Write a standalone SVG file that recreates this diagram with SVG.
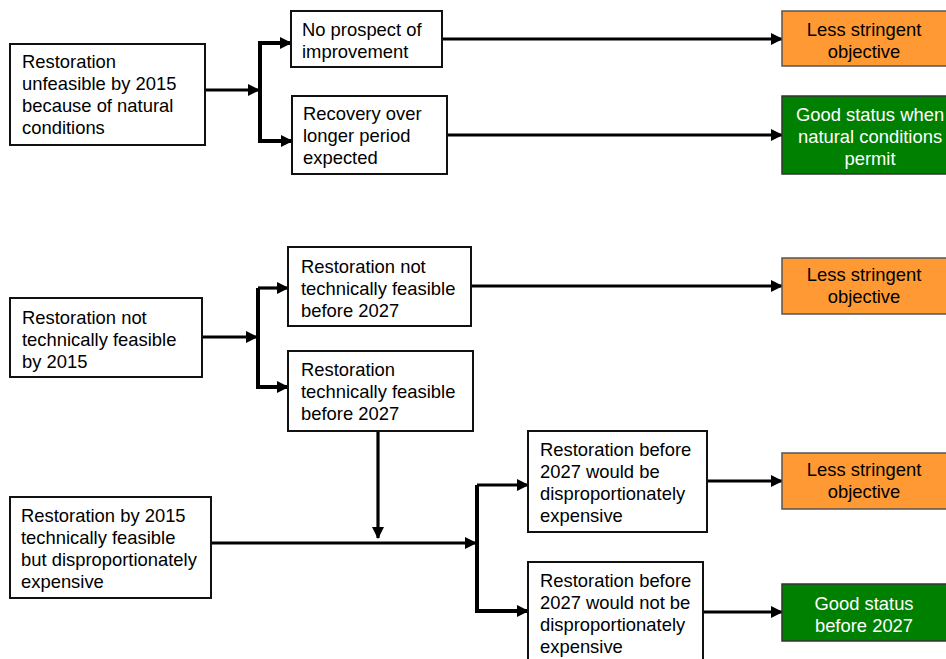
<svg xmlns="http://www.w3.org/2000/svg" width="946" height="659" viewBox="0 0 946 659">
<defs>
<style>
.box{fill:#fff;stroke:#111;stroke-width:2}
.or{fill:#FF9933;stroke:#555;stroke-width:1.5}
.gr{fill:#008000;stroke:#333;stroke-width:1.5}
text{font-family:"Liberation Sans",Arial,sans-serif;font-size:18.4px;fill:#000}
.w{fill:#fff}
.c{text-anchor:middle}
.ln{fill:none;stroke:#000;stroke-width:3.2}
.br{fill:none;stroke:#000;stroke-width:4;stroke-linejoin:miter}
</style>
<marker id="ah" markerUnits="userSpaceOnUse" markerWidth="12" markerHeight="14" refX="11" refY="6" orient="auto" viewBox="0 0 12 12">
<path d="M0,0 L12,6 L0,12 Z" fill="#000"/>
</marker>
</defs>
<rect width="946" height="659" fill="#fff"/>
<g id="connectors">
<line class="ln" x1="205" y1="90" x2="259" y2="90" marker-end="url(#ah)"/>
<path class="br" d="M291,43 H260 V141 H292" marker-end="url(#ah)"/>
<line class="ln" x1="260" y1="43" x2="291" y2="43" marker-end="url(#ah)"/>
<line class="ln" x1="442" y1="39" x2="782" y2="39" marker-end="url(#ah)"/>
<line class="ln" x1="447" y1="135" x2="782" y2="135" marker-end="url(#ah)"/>
<line class="ln" x1="202" y1="337" x2="257" y2="337" marker-end="url(#ah)"/>
<path class="br" d="M258,288 V387 H288" marker-end="url(#ah)"/>
<line class="ln" x1="258" y1="288" x2="288" y2="288" marker-end="url(#ah)"/>
<line class="ln" x1="471" y1="286" x2="782" y2="286" marker-end="url(#ah)"/>
<line class="ln" x1="378" y1="431" x2="378" y2="538" marker-end="url(#ah)"/>
<line class="ln" x1="211" y1="543" x2="476" y2="543" marker-end="url(#ah)"/>
<path class="br" d="M477,485 V611 H528" marker-end="url(#ah)"/>
<line class="ln" x1="477" y1="485" x2="528" y2="485" marker-end="url(#ah)"/>
<line class="ln" x1="707" y1="481" x2="782" y2="481" marker-end="url(#ah)"/>
<line class="ln" x1="703" y1="612" x2="782" y2="612" marker-end="url(#ah)"/>
</g>
<g id="n1">
<rect class="box" x="10" y="44" width="195" height="101"/>
<text x="22" y="68">Restoration</text>
<text x="22" y="90">unfeasible by 2015</text>
<text x="22" y="112">because of natural</text>
<text x="22" y="134">conditions</text>
</g>
<g id="n2">
<rect class="box" x="291" y="11" width="151" height="56"/>
<text x="302" y="36">No prospect of</text>
<text x="302" y="58">improvement</text>
</g>
<g id="n3">
<rect class="box" x="292" y="96" width="155" height="78"/>
<text x="303" y="120">Recovery over</text>
<text x="303" y="142">longer period</text>
<text x="303" y="164">expected</text>
</g>
<g id="n4">
<rect class="or" x="782" y="11" width="170" height="55"/>
<text class="c" x="864" y="36">Less stringent</text>
<text class="c" x="864" y="58">objective</text>
</g>
<g id="n5">
<rect class="gr" x="782" y="96" width="180" height="78"/>
<text class="c w" x="870" y="121">Good status when</text>
<text class="c w" x="870" y="143">natural conditions</text>
<text class="c w" x="870" y="165">permit</text>
</g>
<g id="n6">
<rect class="box" x="10" y="298" width="192" height="79"/>
<text x="22" y="324">Restoration not</text>
<text x="22" y="346">technically feasible</text>
<text x="22" y="368">by 2015</text>
</g>
<g id="n7">
<rect class="box" x="288" y="247" width="183" height="79"/>
<text x="301" y="273">Restoration not</text>
<text x="301" y="295">technically feasible</text>
<text x="301" y="317">before 2027</text>
</g>
<g id="n8">
<rect class="box" x="288" y="351" width="185" height="80"/>
<text x="301" y="376">Restoration</text>
<text x="301" y="398">technically feasible</text>
<text x="301" y="420">before 2027</text>
</g>
<g id="n9">
<rect class="or" x="782" y="258" width="170" height="56"/>
<text class="c" x="864" y="281">Less stringent</text>
<text class="c" x="864" y="303">objective</text>
</g>
<g id="n10">
<rect class="box" x="10" y="497" width="201" height="101"/>
<text x="21" y="522">Restoration by 2015</text>
<text x="21" y="544">technically feasible</text>
<text x="21" y="566">but disproportionately</text>
<text x="21" y="588">expensive</text>
</g>
<g id="n11">
<rect class="box" x="528" y="431" width="179" height="101"/>
<text x="540" y="456">Restoration before</text>
<text x="540" y="478">2027 would be</text>
<text x="540" y="500">disproportionately</text>
<text x="540" y="522">expensive</text>
</g>
<g id="n12">
<rect class="box" x="528" y="562" width="175" height="110"/>
<text x="540" y="587">Restoration before</text>
<text x="540" y="609">2027 would not be</text>
<text x="540" y="631">disproportionately</text>
<text x="540" y="653">expensive</text>
</g>
<g id="n13">
<rect class="or" x="782" y="453" width="170" height="56"/>
<text class="c" x="864" y="476">Less stringent</text>
<text class="c" x="864" y="498">objective</text>
</g>
<g id="n14">
<rect class="gr" x="782" y="584" width="170" height="57"/>
<text class="c w" x="864" y="610">Good status</text>
<text class="c w" x="864" y="632">before 2027</text>
</g>
</svg>
